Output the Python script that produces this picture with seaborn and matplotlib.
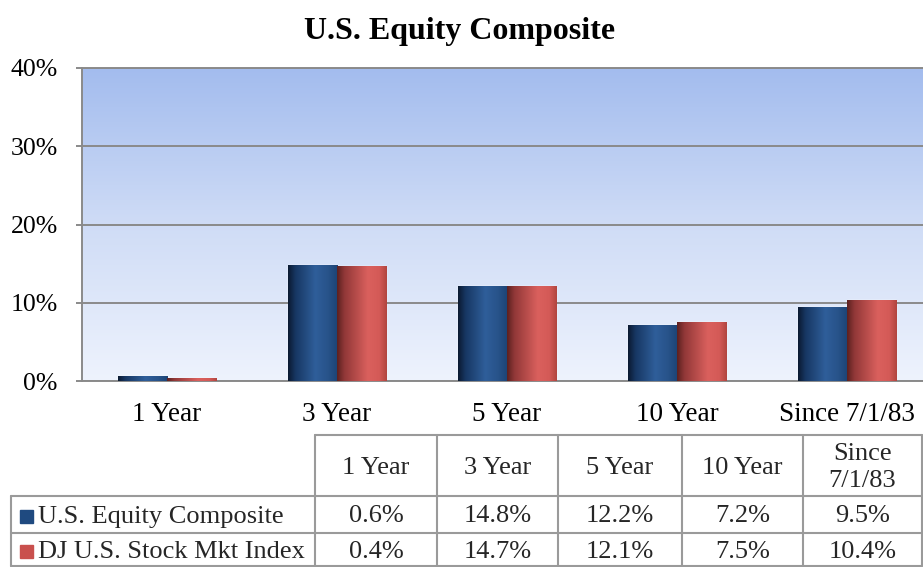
import numpy as np
import pandas as pd
import matplotlib
matplotlib.use("Agg")
import matplotlib.pyplot as plt
import seaborn as sns
from matplotlib.colors import LinearSegmentedColormap
from matplotlib.patches import Rectangle

# ---------------- data ----------------
periods = ["1 Year", "3 Year", "5 Year", "10 Year", "Since 7/1/83"]
table_headers = ["1 Year", "3 Year", "5 Year", "10 Year", "Since\n7/1/83"]
series_names = ["U.S. Equity Composite", "DJ U.S. Stock Mkt Index"]
composite = [0.6, 14.8, 12.2, 7.2, 9.5]
index_vals = [0.4, 14.7, 12.1, 7.5, 10.4]
yticks = [0, 10, 20, 30, 40]
title = "U.S. Equity Composite"

sns.set_theme(style="white")
plt.rcParams["font.family"] = ["Liberation Serif", "DejaVu Serif"]

df = pd.DataFrame({
    "Period": periods * 2,
    "Return": composite + index_vals,
    "Series": [series_names[0]] * len(periods) + [series_names[1]] * len(periods),
})

W, H = 923, 567
fig = plt.figure(figsize=(W / 100, H / 100), dpi=100)
fig.patch.set_facecolor("white")
# plot area runs slightly past the right edge of the picture (cropped, as in the original)
ax = fig.add_axes([82 / W, 1 - 381 / H, (932 - 82) / W, (381 - 68) / H])

base_colors = ["#1f4a80", "#c9504d"]
sns.barplot(data=df, x="Period", y="Return", hue="Series", palette=base_colors,
            width=0.577, gap=0, saturation=1, legend=False, ax=ax, zorder=2,
            errorbar=None)
bars = list(ax.patches)

# background gradient
bg = LinearSegmentedColormap.from_list("bg", ["#eef3fd", "#cfdcf6", "#a3bcee"])
grad = np.linspace(0, 1, 256)[:, None]
ax.imshow(grad, cmap=bg, extent=[0, 1, 0, 1], transform=ax.transAxes,
          aspect="auto", origin="lower", zorder=0)

# cylinder shading on bars
blue_cm = LinearSegmentedColormap.from_list("b", [(0, "#0b1a31"), (0.15, "#173763"),
                                                  (0.55, "#2f5e9a"), (0.8, "#28538a"),
                                                  (1, "#1c4476")])
red_cm = LinearSegmentedColormap.from_list("r", [(0, "#5c2120"), (0.15, "#923838"),
                                                 (0.62, "#da605d"), (0.85, "#d45a57"),
                                                 (1, "#b1453f")])
hg = np.linspace(0, 1, 128)[None, :]
n = len(periods)
for i, p in enumerate(bars):
    cm = blue_cm if i < n else red_cm
    x0, y0 = p.get_x(), p.get_y()
    w, h = p.get_width(), p.get_height()
    im = ax.imshow(hg, cmap=cm, extent=[x0, x0 + w, y0, y0 + h], aspect="auto",
                   zorder=3, interpolation="bilinear")
    im.set_clip_path(p)

ax.set_xlim(-0.5, len(periods) - 0.5)
ax.set_ylim(0, 40)
ax.set_yticks(yticks)
ax.set_yticklabels([f"{v}%" for v in yticks], fontsize=18.5, color="black")
ax.yaxis.grid(True, color="#8a8a8a", lw=1.4)
ax.set_axisbelow(False)
for gl in ax.get_ygridlines():
    gl.set_zorder(1)
ax.set_xlabel("")
ax.set_ylabel("")
ax.set_xticks(range(len(periods)))
ax.set_xticklabels(periods, fontsize=19.5, color="black")
ax.set_xticks(np.arange(-0.5, len(periods) - 0.5, 1), minor=True)
ax.tick_params(axis="x", which="major", length=0, pad=15)
ax.tick_params(axis="x", which="minor", length=5, width=1.4, color="#8a8a8a", direction="out")
ax.tick_params(axis="y", length=4.5, width=1.4, color="#8a8a8a", direction="out", pad=13, left=True)
for s in ["left", "bottom", "top"]:
    ax.spines[s].set_visible(True)
    ax.spines[s].set_color("#8a8a8a")
    ax.spines[s].set_linewidth(1.4)
ax.spines["right"].set_visible(False)

fig.text(459.5 / W, 1 - 31 / H, title, ha="center", va="center", fontsize=23,
         fontweight="bold", color="black")

# ---------------- data table ----------------
tax = fig.add_axes([0, 0, 1, 1], zorder=5)
tax.set_xlim(0, W)
tax.set_ylim(H, 0)
tax.axis("off")
tax.patch.set_alpha(0)

lc = "#9a9a9a"
lw = 1.5
col_x = [315, 437, 558, 682, 803, 922]
row_y = [435, 496, 533, 566]
tax.plot([col_x[0], col_x[-1]], [row_y[0]] * 2, color=lc, lw=lw)
for yy in row_y[1:]:
    tax.plot([11, col_x[-1]], [yy, yy], color=lc, lw=lw)
for xx in col_x:
    tax.plot([xx, xx], [row_y[0], row_y[-1]], color=lc, lw=lw)
tax.plot([11, 11], [row_y[1], row_y[-1]], color=lc, lw=lw)

for j, hdr in enumerate(table_headers):
    cx = (col_x[j] + col_x[j + 1]) / 2
    tax.text(cx, (row_y[0] + row_y[1]) / 2 + 2, hdr, ha="center", va="center",
             fontsize=19, linespacing=1.35)

for r, (name, vals) in enumerate(zip(series_names, [composite, index_vals])):
    cy = (row_y[r + 1] + row_y[r + 2]) / 2 + 2
    tax.add_patch(Rectangle((20, cy - 7), 13, 13, color=base_colors[r]))
    tax.text(38, cy, name, ha="left", va="center", fontsize=19)
    for j, v in enumerate(vals):
        cx = (col_x[j] + col_x[j + 1]) / 2
        tax.text(cx, cy, f"{v:.1f}%", ha="center", va="center", fontsize=19)

fig.savefig("out.png", dpi=100)
